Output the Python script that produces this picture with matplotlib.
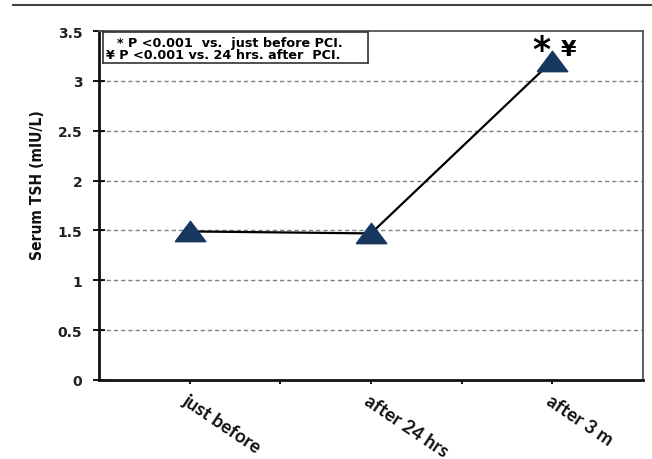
import matplotlib
matplotlib.use("Agg")
import matplotlib.pyplot as plt
from matplotlib.lines import Line2D

# Serum TSH at three time points around PCI
categories = ["just before", "after 24 hrs", "after 3 m"]
tsh_values = [1.49, 1.47, 3.20]
y_ticks = [0, 0.5, 1, 1.5, 2, 2.5, 3, 3.5]
y_tick_labels = ["0", "0.5", "1", "1.5", "2", "2.5", "3", "3.5"]
legend_lines = ["* P <0.001  vs.  just before PCI.",
                "\u00a5 P <0.001 vs. 24 hrs. after  PCI."]

fig = plt.figure(figsize=(6.52, 4.60), dpi=100)
ax = fig.add_axes([99 / 652, 1 - 381 / 460, (643 - 99) / 652, (381 - 32) / 460])

x = list(range(len(categories)))

# wide, flat triangle marker
tri = [(-1.5, -1.0), (1.5, -1.0), (0.0, 1.0), (-1.5, -1.0)]
ax.plot(x, tsh_values, color="black", lw=1.6, zorder=3)
ax.plot(x, tsh_values, linestyle="none", marker=tri, ms=22,
        markerfacecolor="#17375E", markeredgecolor="#17375E", zorder=4)

ax.set_xlim(-0.5, 2.5)
ax.set_ylim(0, 3.5)

# dashed horizontal gridlines
for yv in y_ticks[1:-1]:
    ax.axhline(yv, color="#7f7f7f", lw=1.0, linestyle=(0, (3, 2.2)), zorder=1)

ax.set_yticks(y_ticks)
ax.set_yticklabels(y_tick_labels, fontfamily="DejaVu Sans", fontweight="bold",
                   fontsize=10, color="#222222")
ax.tick_params(axis="y", direction="inout", length=8, width=1.3, pad=8)

ax.set_xticks(x)
ax.set_xticks([0.5, 1.5], minor=True)
ax.set_xticklabels(categories, fontfamily="Lato", fontweight="bold",
                   fontsize=13.5, rotation=-34, ha="left", va="top",
                   rotation_mode="anchor", color="#111111")
ax.tick_params(axis="x", which="both", direction="out", length=3, width=1.3, pad=5)

for side in ("left", "bottom"):
    ax.spines[side].set_linewidth(2.0)
    ax.spines[side].set_color("#111111")
for side in ("top", "right"):
    ax.spines[side].set_linewidth(1.3)
    ax.spines[side].set_color("#555555")

ax.set_ylabel("Serum TSH (mIU/L)", fontfamily="DejaVu Sans", fontstretch="condensed",
              fontweight="bold", fontsize=11.2, color="#111111")
ax.yaxis.set_label_coords(-54 / 544, 0.56)

# significance note box
box_ax = fig.add_axes([103 / 652, 1 - 64 / 460, (368 - 103) / 652, (64 - 33) / 460])
box_ax.set_xticks([])
box_ax.set_yticks([])
for s in box_ax.spines.values():
    s.set_linewidth(1.2)
    s.set_color("#333333")
box_ax.text(14 / 265, 0.67, legend_lines[0], transform=box_ax.transAxes,
            fontfamily="DejaVu Sans", fontweight="bold", fontsize=9.2,
            va="center", ha="left")
box_ax.text(3 / 265, 0.27, legend_lines[1], transform=box_ax.transAxes,
            fontfamily="DejaVu Sans", fontweight="bold", fontsize=9.2,
            va="center", ha="left")

# significance symbols above the last point
ax.annotate("*", xy=(x[2], tsh_values[2]), xytext=(-11, -6), textcoords="offset pixels",
            ha="center", va="bottom", fontsize=25, fontweight="bold",
            fontfamily="DejaVu Sans")
ax.annotate("\u00a5", xy=(x[2], tsh_values[2]), xytext=(16, 2), textcoords="offset pixels",
            ha="center", va="bottom", fontsize=16, fontweight="bold",
            fontfamily="DejaVu Sans")

# separator rule across the top
fig.add_artist(Line2D([13 / 652, 1.0], [1 - 6 / 460, 1 - 6 / 460],
                      transform=fig.transFigure, color="#444444", lw=1.5))

fig.savefig("out.png", dpi=100)
